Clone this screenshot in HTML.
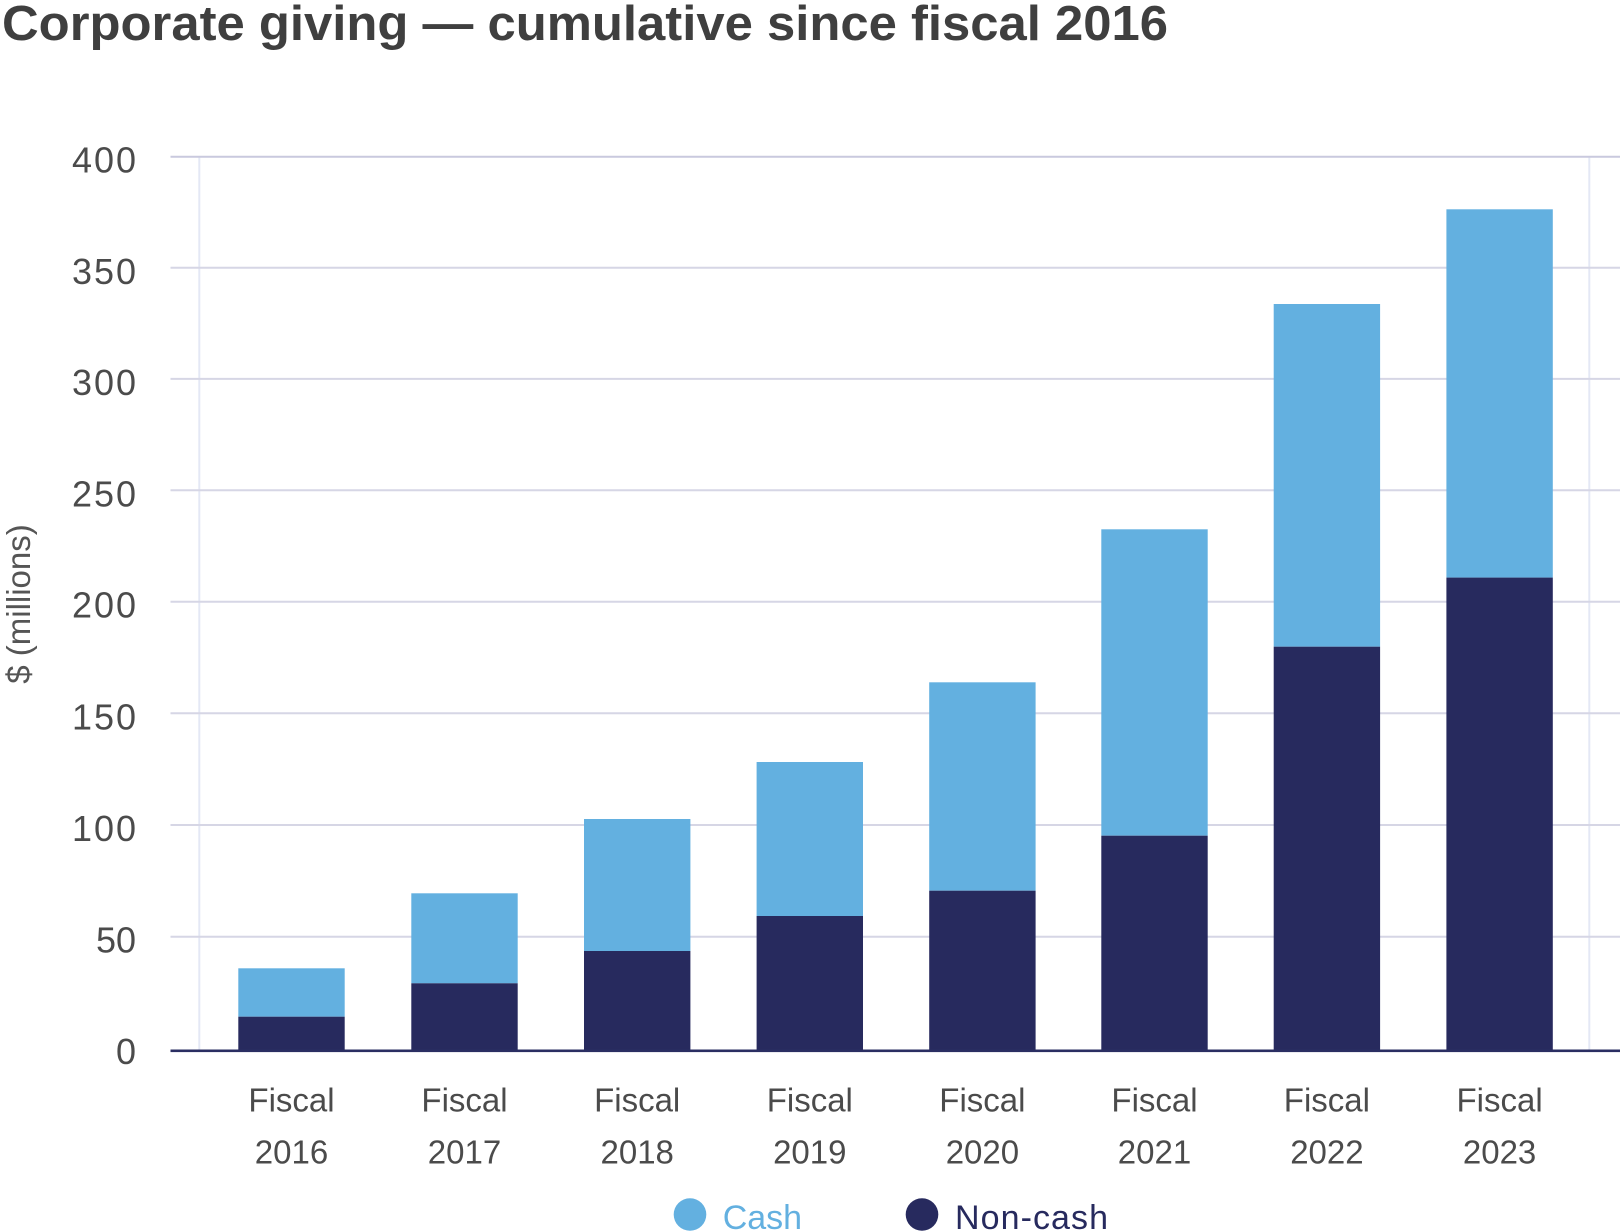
<!DOCTYPE html>
<html>
<head>
<meta charset="utf-8">
<style>
  html, body { margin:0; padding:0; background:#ffffff; }
  svg { display:block; }
  text { font-family: "Liberation Sans", sans-serif; }
</style>
</head>
<body>
<svg width="1620" height="1232" viewBox="0 0 1620 1232" xmlns="http://www.w3.org/2000/svg">
  <rect x="0" y="0" width="1620" height="1232" fill="#ffffff"/>

  <!-- Title -->
  <text x="2" y="40" font-size="49" font-weight="bold" fill="#3f3f3f" textLength="1166" lengthAdjust="spacingAndGlyphs">Corporate giving — cumulative since fiscal 2016</text>

  <!-- vertical light lines -->
  <line x1="199.3" y1="156.7" x2="199.3" y2="1050" stroke="#e4e8f5" stroke-width="2"/>
  <line x1="1589.3" y1="156.7" x2="1589.3" y2="1050" stroke="#e4e8f5" stroke-width="2"/>

  <!-- horizontal gridlines -->
  <g stroke="#d6d6e5" stroke-width="2">
    <line x1="170.5" y1="156.7" x2="1620" y2="156.7" stroke="#c9c9de"/>
    <line x1="170.5" y1="267.8" x2="1620" y2="267.8"/>
    <line x1="170.5" y1="378.9" x2="1620" y2="378.9"/>
    <line x1="170.5" y1="490.3" x2="1620" y2="490.3"/>
    <line x1="170.5" y1="601.7" x2="1620" y2="601.7"/>
    <line x1="170.5" y1="713.3" x2="1620" y2="713.3"/>
    <line x1="170.5" y1="825" x2="1620" y2="825"/>
    <line x1="170.5" y1="936.7" x2="1620" y2="936.7"/>
  </g>

  <!-- Y tick labels -->
  <g font-size="36" fill="#4b4b4b" text-anchor="end">
    <text x="136" y="172.7" textLength="64">400</text>
    <text x="136" y="283.8" textLength="64">350</text>
    <text x="136" y="394.9" textLength="64">300</text>
    <text x="136" y="506.3" textLength="64">250</text>
    <text x="136" y="617.7" textLength="64">200</text>
    <text x="136" y="729.3" textLength="64">150</text>
    <text x="136" y="841" textLength="64">100</text>
    <text x="136" y="952.7">50</text>
    <text x="136" y="1064">0</text>
  </g>

  <!-- Y axis title -->
  <text x="30" y="604" font-size="33" fill="#555555" text-anchor="middle" transform="rotate(-90 30 604)">$ (millions)</text>

  <!-- Bars: cash (light) on top, non-cash (dark) bottom -->
  <g>
    <!-- 2016 -->
    <rect x="238.3" y="968.3" width="106.4" height="48.4" fill="#63b0e0"/>
    <rect x="238.3" y="1016.7" width="106.4" height="33.3" fill="#272a5e"/>
    <!-- 2017 -->
    <rect x="411.3" y="893.3" width="106.4" height="90" fill="#63b0e0"/>
    <rect x="411.3" y="983.3" width="106.4" height="66.7" fill="#272a5e"/>
    <!-- 2018 -->
    <rect x="584" y="819" width="106.4" height="132" fill="#63b0e0"/>
    <rect x="584" y="951" width="106.4" height="99" fill="#272a5e"/>
    <!-- 2019 -->
    <rect x="756.6" y="762" width="106.4" height="154" fill="#63b0e0"/>
    <rect x="756.6" y="916" width="106.4" height="134" fill="#272a5e"/>
    <!-- 2020 -->
    <rect x="929.2" y="682.3" width="106.4" height="208.4" fill="#63b0e0"/>
    <rect x="929.2" y="890.7" width="106.4" height="159.3" fill="#272a5e"/>
    <!-- 2021 -->
    <rect x="1101.3" y="529.3" width="106.4" height="306.4" fill="#63b0e0"/>
    <rect x="1101.3" y="835.7" width="106.4" height="214.3" fill="#272a5e"/>
    <!-- 2022 -->
    <rect x="1273.7" y="304" width="106.4" height="342.7" fill="#63b0e0"/>
    <rect x="1273.7" y="646.7" width="106.4" height="403.3" fill="#272a5e"/>
    <!-- 2023 -->
    <rect x="1446.4" y="209.3" width="106.4" height="368.3" fill="#63b0e0"/>
    <rect x="1446.4" y="577.6" width="106.4" height="472.4" fill="#272a5e"/>
  </g>

  <!-- Baseline axis -->
  <rect x="170.5" y="1049.5" width="1449.5" height="2.6" fill="#2a2e62"/>

  <!-- X labels -->
  <g font-size="33" fill="#4b4b4b" text-anchor="middle">
    <text x="291.5" y="1111.7">Fiscal</text>
    <text x="291.5" y="1163.3">2016</text>
    <text x="464.5" y="1111.7">Fiscal</text>
    <text x="464.5" y="1163.3">2017</text>
    <text x="637.2" y="1111.7">Fiscal</text>
    <text x="637.2" y="1163.3">2018</text>
    <text x="809.8" y="1111.7">Fiscal</text>
    <text x="809.8" y="1163.3">2019</text>
    <text x="982.4" y="1111.7">Fiscal</text>
    <text x="982.4" y="1163.3">2020</text>
    <text x="1154.5" y="1111.7">Fiscal</text>
    <text x="1154.5" y="1163.3">2021</text>
    <text x="1326.9" y="1111.7">Fiscal</text>
    <text x="1326.9" y="1163.3">2022</text>
    <text x="1499.6" y="1111.7">Fiscal</text>
    <text x="1499.6" y="1163.3">2023</text>
  </g>

  <!-- Legend -->
  <circle cx="690" cy="1214.5" r="16.3" fill="#63b0e0"/>
  <text x="722.7" y="1229" font-size="34" fill="#63b0e0" textLength="79.3">Cash</text>
  <circle cx="922" cy="1214.5" r="16.3" fill="#272a5e"/>
  <text x="955" y="1229" font-size="34" fill="#272a5e" textLength="153">Non-cash</text>
</svg>
</body>
</html>
